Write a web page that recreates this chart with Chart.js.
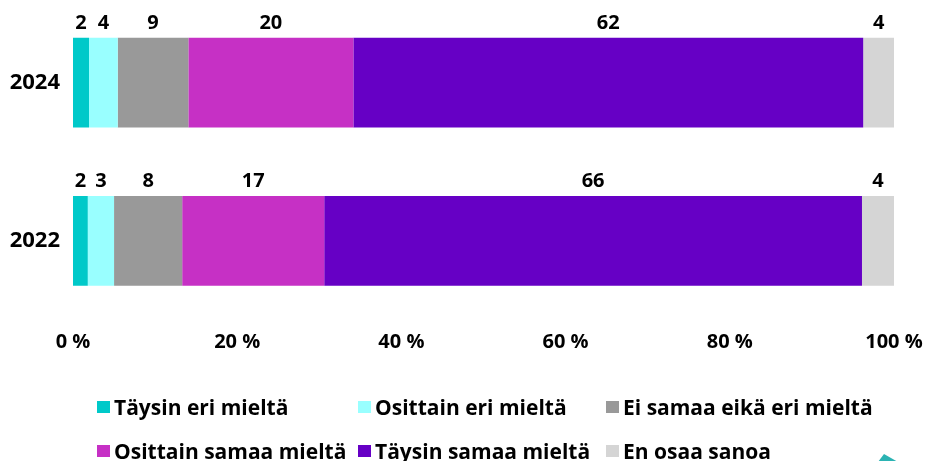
<!DOCTYPE html>
<html>
<head>
<meta charset="utf-8">
<script src="https://cdn.jsdelivr.net/npm/chart.js@4"></script>
<style>
  html, body { margin: 0; padding: 0; background: #fff; }
  body { width: 928px; height: 461px; position: relative; overflow: hidden; font-family: "Open Sans", Lato, sans-serif; }
  #wrap { position: absolute; left: 0; top: 0; width: 928px; height: 372px; }
  #legend { position: absolute; left: 0; top: 0; width: 928px; height: 461px; pointer-events: none; }
  .item { position: absolute; display: flex; align-items: center; font-weight: 700; font-size: 21px; color: #000; white-space: nowrap; transform: translateY(-50%); }
  .box { width: 13px; height: 12px; margin-right: 4px; }
  #deco { position: absolute; left: 878px; top: 454px; width: 0; height: 0; border-left: 6px solid transparent; border-right: 14px solid transparent; border-bottom: 8px solid #2bb3b3; }
</style>
</head>
<body>
<div id="wrap"><canvas id="c"></canvas></div>
<div id="legend"></div>
<div id="deco"></div>
<script>
const categories = ["2024", "2022"];
const seriesNames = ["Täysin eri mieltä", "Osittain eri mieltä", "Ei samaa eikä eri mieltä", "Osittain samaa mieltä", "Täysin samaa mieltä", "En osaa sanoa"];
const seriesColors = ["#00C9C9", "#99FFFF", "#999999", "#C630C5", "#6600C5", "#D5D5D5"];
const taysinEri   = [1.95, 1.8];
const osittainEri = [3.5, 3.2];
const eiSamaa     = [8.6, 8.3];
const osittainSamaa = [20.1, 17.3];
const taysinSamaa = [62.1, 65.5];
const enOsaa      = [3.75, 3.9];
const xTicks = [0, 20, 40, 60, 80, 100];

const seriesValues = [taysinEri, osittainEri, eiSamaa, osittainSamaa, taysinSamaa, enOsaa];
const FONT = '"Open Sans", Lato, sans-serif';

const labelPlugin = {
  id: 'topLabels',
  afterDatasetsDraw(chart) {
    const ctx = chart.ctx;
    ctx.save();
    ctx.font = '700 20px ' + FONT;
    ctx.fillStyle = '#000';
    ctx.textAlign = 'center';
    ctx.textBaseline = 'middle';
    chart.data.datasets.forEach((ds, di) => {
      const meta = chart.getDatasetMeta(di);
      meta.data.forEach((bar, i) => {
        const p = bar.getProps(['x', 'base', 'y', 'height'], true);
        const cx = (p.x + p.base) / 2;
        const top = p.y - p.height / 2;
        ctx.fillText(String(Math.round(ds.data[i])), cx, top - 15);
      });
    });
    ctx.restore();
  }
};

new Chart(document.getElementById('c'), {
  type: 'bar',
  data: {
    labels: categories,
    datasets: seriesNames.map((n, i) => ({
      label: n,
      data: seriesValues[i],
      backgroundColor: seriesColors[i],
      borderWidth: 0,
      categoryPercentage: 1,
      barPercentage: 0.566
    }))
  },
  options: {
    indexAxis: 'y',
    responsive: true,
    maintainAspectRatio: false,
    animation: false,
    layout: { padding: { top: 3.5, right: 34, bottom: 8, left: 0 } },
    plugins: { legend: { display: false }, tooltip: { enabled: false } },
    scales: {
      x: {
        stacked: true,
        min: 0, max: 100,
        afterBuildTicks(scale) { scale.ticks = xTicks.map(v => ({ value: v })); },
        afterFit(scale) { scale.paddingLeft = 0; scale.paddingRight = 0; },
        grid: { display: false, drawTicks: false },
        border: { display: false },
        ticks: {
          padding: 10,
          color: '#000',
          font: { family: FONT, weight: '700', size: 20 },
          maxRotation: 0,
          callback: v => v + ' %'
        }
      },
      y: {
        stacked: true,
        grid: { display: false, drawTicks: false },
        border: { display: false },
        afterFit(scale) { scale.width = 73; scale.paddingTop = 0; scale.paddingBottom = 0; },
        ticks: {
          padding: 13,
          color: '#000',
          font: { family: FONT, weight: '700', size: 22 }
        }
      }
    }
  },
  plugins: [labelPlugin]
});

const legendCols = [97, 358, 606];
const legendRows = [407, 451];
const leg = document.getElementById('legend');
seriesNames.forEach((n, i) => {
  const d = document.createElement('div');
  d.className = 'item';
  d.style.left = legendCols[i % 3] + 'px';
  d.style.top = legendRows[Math.floor(i / 3)] + 'px';
  const b = document.createElement('span');
  b.className = 'box';
  b.style.background = seriesColors[i];
  const t = document.createElement('span');
  t.textContent = n;
  d.appendChild(b); d.appendChild(t);
  leg.appendChild(d);
});
</script>
</body>
</html>
